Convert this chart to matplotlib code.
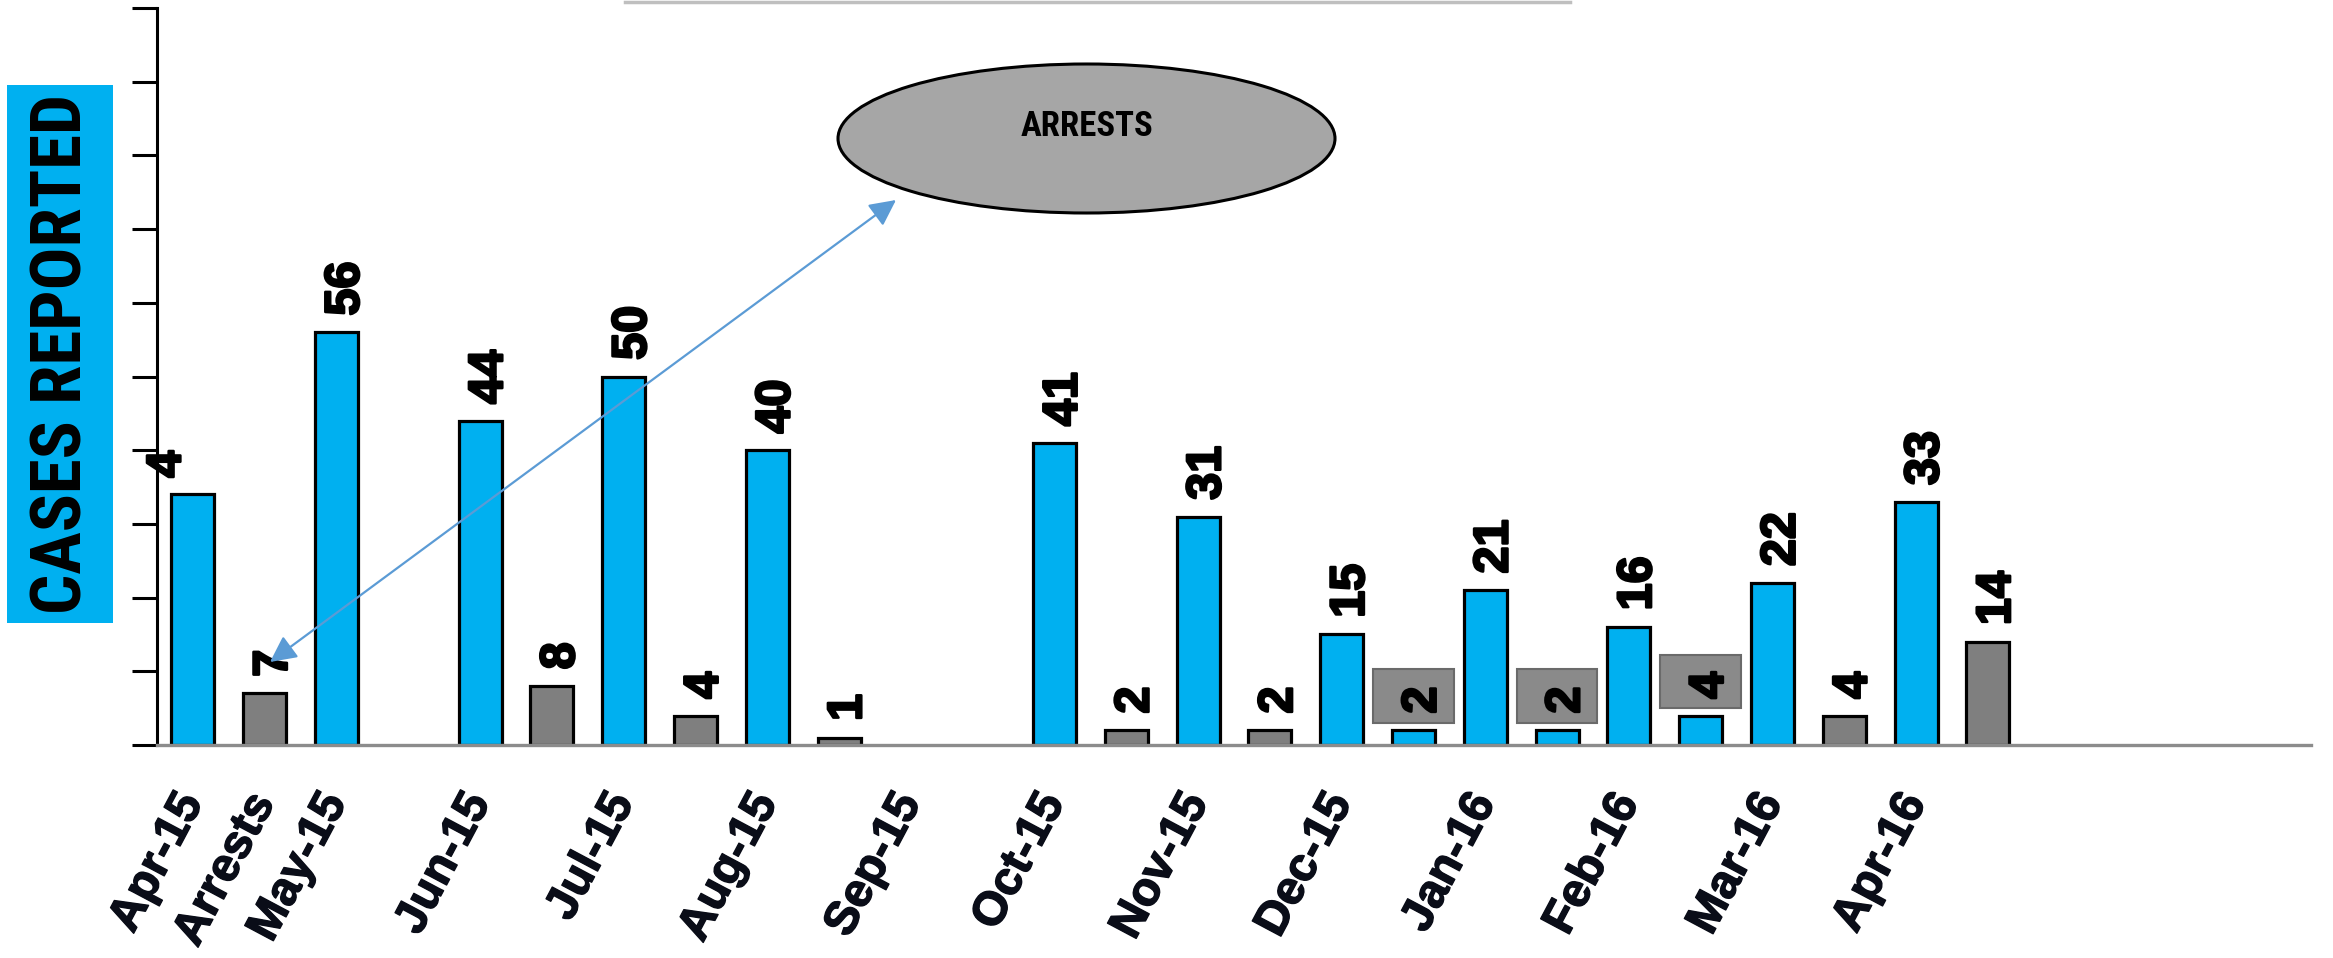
import matplotlib
matplotlib.use("Agg")
import matplotlib.pyplot as plt
from matplotlib.patches import Rectangle, Ellipse, FancyArrowPatch
from matplotlib.lines import Line2D
from matplotlib import font_manager as fm
import matplotlib.patheffects as pe
import numpy as np

W, H, DPI = 2333, 958, 100

# ---------------- data ----------------
categories = ["Apr-15", "Arrests", "May-15", "", "Jun-15", "", "Jul-15", "", "Aug-15", "",
              "Sep-15", "", "Oct-15", "", "Nov-15", "", "Dec-15", "", "Jan-16", "",
              "Feb-16", "", "Mar-16", "", "Apr-16", "", "", "", "", ""]
values = [34, 7, 56, 0, 44, 8, 50, 4, 40, 1,
          0, 0, 41, 2, 31, 2, 15, 2, 21, 2,
          16, 4, 22, 4, 33, 14, 0, 0, 0, 0]
series_kind = ["case", "arrest", "case", None, "case", "arrest", "case", "arrest", "case", "arrest",
               None, None, "case", "arrest", "case", "arrest", "case", "case", "case", "case",
               "case", "case", "case", "arrest", "case", "arrest", None, None, None, None]
value_labels = ["4", "7", "56", "", "44", "8", "50", "4", "40", "1",
                "", "", "41", "2", "31", "2", "15", "2", "21", "2",
                "16", "4", "22", "4", "33", "14", "", "", "", ""]
boxed_labels = [17, 19, 21]
y_ticks = list(range(0, 101, 10))

kind_colors = {"case": "#00B0F0", "arrest": "#7F7F7F"}


# ---------------- font helpers ----------------
def _w(f):
    w = f.weight
    if isinstance(w, str):
        w = fm.weight_dict.get(w, 400)
    return int(w)


def bold_face(cands, min_w=600):
    by = {}
    for f in fm.fontManager.ttflist:
        by.setdefault(f.name, []).append(f)
    for c in cands:
        for f in by.get(c, []):
            if _w(f) >= min_w and f.style == "normal":
                return f.fname
    return None


def narrow_bold():
    pref = bold_face(["Liberation Sans Narrow", "Roboto Condensed", "Open Sans Condensed",
                      "Noto Sans Condensed", "DejaVu Sans Condensed", "Arial Narrow"])
    if pref:
        return pref
    for f in fm.fontManager.ttflist:
        key = (f.name + " " + f.fname).lower()
        if ("narrow" in key or "condensed" in key) and _w(f) >= 600 and f.style == "normal" \
                and "cjk" not in key and "mono" not in key:
            return f.fname
    return None


def fprops(path, size, fallback_family, weight="bold"):
    if path:
        return fm.FontProperties(fname=path, size=size)
    return fm.FontProperties(family=fallback_family, weight=weight, size=size)


narrow = narrow_bold()
cases_fp = fprops(narrow, 51 if narrow else 45, ["Liberation Sans", "DejaVu Sans"])
arrests_fp = fprops(narrow, 25 if narrow else 21, ["Liberation Sans", "DejaVu Sans"])

heavy_value = [pe.withStroke(linewidth=1.8, foreground="black")]
heavy_tick = [pe.withStroke(linewidth=1.0, foreground="#0A0D18")]

# ---------------- figure ----------------
fig = plt.figure(figsize=(W / DPI, H / DPI), dpi=DPI)
fig.patch.set_facecolor("white")

ax_left, ax_right, ax_top, ax_bottom = 157, 2311, 8, 745
ax = fig.add_axes([ax_left / W, 1 - ax_bottom / H, (ax_right - ax_left) / W, (ax_bottom - ax_top) / H])

x = np.arange(len(categories))
idx = [i for i, k in enumerate(series_kind) if k]
ax.bar(x[idx], [values[i] for i in idx], width=0.6,
       color=[kind_colors[series_kind[i]] for i in idx],
       edgecolor="black", linewidth=2.3, zorder=2)

ax.set_xlim(-0.5, len(categories) - 0.5)
ax.set_ylim(0, 100)
ax.set_yticks(y_ticks)
ax.set_yticklabels([])
ax.tick_params(axis="y", length=18, width=2.2, color="black", direction="out")

for s in ("top", "right"):
    ax.spines[s].set_visible(False)
ax.spines["left"].set_linewidth(2.2)
ax.spines["left"].set_color("black")
ax.spines["bottom"].set_linewidth(2.4)
ax.spines["bottom"].set_color("#8C8C8C")
ax.spines["bottom"].set_zorder(4)

tick_pos = [i for i, c in enumerate(categories) if c]
ax.set_xticks(tick_pos)
ticklabels = ax.set_xticklabels([categories[i] for i in tick_pos], rotation=62, ha="right",
                                va="center", rotation_mode="anchor", fontsize=34,
                                fontweight="bold", family=["Liberation Sans", "DejaVu Sans"],
                                color="#0A0D18")
for t in ticklabels:
    t.set_path_effects(heavy_tick)
ax.tick_params(axis="x", length=0, pad=37)

# highlighted label boxes
for i in boxed_labels:
    ax.add_patch(Rectangle((x[i] - 0.56, values[i] + 1.05), 1.12, 7.2,
                           facecolor="#8A8A8A", edgecolor="#6A6A6A", linewidth=1.5, zorder=3))

# value labels
for i in idx:
    lab = value_labels[i]
    if not lab:
        continue
    dx = -18 if i == 0 else 7
    t = ax.annotate(lab, (x[i], values[i]), xytext=(dx, 12), textcoords="offset points",
                    rotation=90, ha="center", va="bottom", fontsize=35, fontweight="bold",
                    family=["Liberation Sans", "DejaVu Sans"], color="black", zorder=5)
    t.set_path_effects(heavy_value)


# ---------------- decorations in figure space ----------------
def fx(px):
    return px / W


def fy(py):
    return 1 - py / H


fig.add_artist(Rectangle((fx(7), fy(623)), 106 / W, 538 / H, transform=fig.transFigure,
                         facecolor="#00B0F0", edgecolor="none", zorder=1))
fig.text(fx(62), fy(354), "CASES REPORTED", rotation=90, ha="center", va="center",
         fontproperties=cases_fp, color="black", zorder=2)

fig.add_artist(Line2D([fx(625), fx(1570)], [fy(2), fy(2)], transform=fig.transFigure,
                      color="#BFBFBF", linewidth=2.5))

fig.add_artist(Ellipse((fx(1086.5), fy(138.5)), 497 / W, 149 / H, transform=fig.transFigure,
                       facecolor="#A6A6A6", edgecolor="black", linewidth=2.2, zorder=3))
fig.text(fx(1087), fy(136), "ARRESTS", ha="center", va="baseline",
         fontproperties=arrests_fp, color="black", zorder=4)

fig.add_artist(FancyArrowPatch((fx(896), fy(200)), (fx(270), fy(662)), transform=fig.transFigure,
                               arrowstyle="<|-|>", mutation_scale=40, linewidth=1.6,
                               color="#5B9BD5", shrinkA=0, shrinkB=0, zorder=6))

fig.savefig("out.png", dpi=DPI)
